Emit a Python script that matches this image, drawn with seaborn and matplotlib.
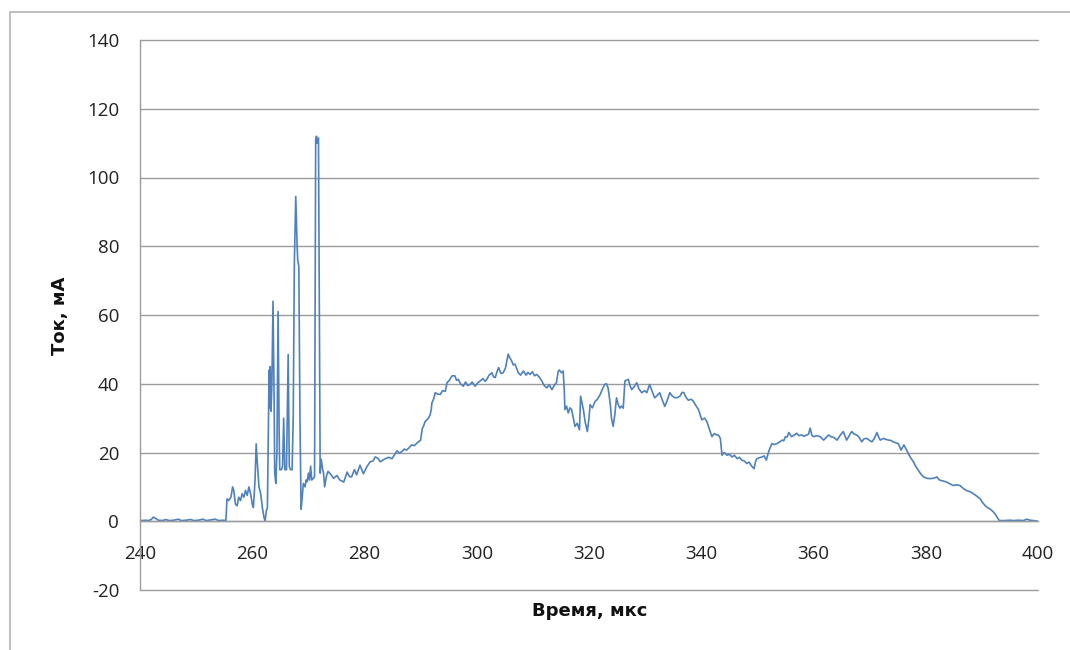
import matplotlib
matplotlib.use("Agg")
import matplotlib.pyplot as plt
from matplotlib.patches import Rectangle
import seaborn as sns
import pandas as pd

# Discharge current trace: time (µs) and current (mA)
time_us = [
    240.0, 240.5, 241.0, 241.5, 242.0, 242.4, 242.8, 243.3, 244.0, 244.6,
    245.2, 246.0, 246.8, 247.4, 248.2, 249.0, 249.6, 250.4, 251.2, 251.8,
    252.6, 253.4, 254.0, 254.8, 255.3,
    255.5, 255.8, 256.2, 256.5, 256.7, 257.0, 257.3, 257.6, 257.9, 258.2,
    258.5, 258.8, 259.1, 259.4, 259.7, 260.0, 260.2, 260.5, 260.7, 260.9,
    261.2, 261.5, 261.8, 262.1, 262.3, 262.5, 262.7,
    262.9, 263.0, 263.1, 263.2, 263.35, 263.5, 263.7, 263.9, 264.0, 264.2,
    264.4, 264.6, 264.8, 264.9, 265.2, 265.4, 265.6, 265.8, 266.1, 266.4,
    266.6, 266.8, 267.1, 267.3, 267.5, 267.75, 268.0, 268.1, 268.3, 268.5,
    268.7, 268.9, 269.1, 269.4, 269.6, 269.8, 270.0, 270.2, 270.4, 270.6,
    270.9, 271.1, 271.2, 271.3, 271.45, 271.55, 271.65, 271.8, 271.95, 272.1,
    272.3, 272.5, 272.7, 272.9, 273.2, 273.5, 273.9,
    274.5, 275.1, 275.6, 276.3, 276.9, 277.3, 277.7, 278.2, 278.6, 279.2,
    279.8, 280.4, 281.0, 281.5, 281.9, 282.4, 282.8, 283.3, 283.7, 284.3,
    284.9, 285.4, 285.8, 286.2, 286.6, 287.1, 287.5, 288.0, 288.4, 288.9,
    289.3, 289.7, 290.0, 290.3, 290.5, 290.8, 291.1, 291.4, 291.7, 291.9,
    292.0, 292.3, 292.6, 293.0, 293.5, 293.9, 294.4, 294.7, 295.1, 295.6,
    296.1, 296.4, 296.7, 297.1, 297.6, 298.0, 298.4, 298.8, 299.2, 299.7,
    300.2, 300.6, 301.1, 301.5, 301.8, 302.2, 302.7, 303.0, 303.3, 303.6,
    303.9, 304.3, 304.7, 305.1, 305.6, 305.9, 306.2, 306.5, 306.8, 307.1,
    307.4, 307.8, 308.3, 308.8, 309.1, 309.5, 309.9, 310.3, 310.7, 311.1,
    311.6, 312.0, 312.5, 312.9, 313.4, 313.8, 314.2, 314.5, 314.7, 315.1,
    315.4, 315.6, 315.7, 316.0, 316.3, 316.6, 316.9, 317.2, 317.5, 317.9,
    318.3, 318.5, 318.8, 319.0, 319.3, 319.7, 320.0, 320.2, 320.6, 321.1,
    321.5, 322.0, 322.4, 322.8, 323.1, 323.4, 323.8, 324.0, 324.3, 324.6,
    324.9, 325.2, 325.5, 325.8, 326.1, 326.4, 327.0, 327.3, 327.6, 328.0,
    328.5, 328.9, 329.4, 329.9, 330.3, 330.8, 331.2, 331.7, 332.1, 332.6,
    333.0, 333.5, 333.9, 334.4, 334.8, 335.3, 335.8, 336.2, 336.6, 336.9,
    337.3, 337.7, 338.2, 338.6, 339.1, 339.5, 339.8, 340.1, 340.6, 341.0,
    341.4, 341.9, 342.3, 342.8, 343.1, 343.4, 343.7, 344.1, 344.6, 345.0,
    345.5, 345.9, 346.4, 346.8, 347.2, 347.7, 348.1, 348.5, 349.0, 349.4,
    349.7, 349.9, 350.4, 350.8, 351.2, 351.6, 352.0, 352.3, 352.6, 353.0,
    353.5, 353.9, 354.4, 354.7, 355.0, 355.3, 355.6, 356.1, 356.5, 357.0,
    357.4, 357.9, 358.3, 358.8, 359.1, 359.4, 359.7, 360.0, 360.6, 361.2,
    361.8, 362.2, 362.7, 363.1, 363.6, 364.2, 364.8, 365.3, 365.9, 366.3,
    366.8, 367.2, 367.7, 368.1, 368.6, 369.0, 369.5, 370.0, 370.4, 370.8,
    371.3, 371.6, 371.9, 372.5, 372.9, 373.4, 373.8, 374.2, 374.7, 375.1,
    375.6, 376.1, 376.5, 376.9, 377.3, 377.8, 378.2, 378.7, 379.1, 379.6,
    380.2, 380.8, 381.4, 382.0, 382.3, 382.6, 383.1, 383.7, 384.3, 384.9,
    385.5, 386.1, 386.7, 387.3, 387.9, 388.5, 389.1, 389.7, 390.1, 390.6,
    391.0, 391.5, 392.0, 392.4, 392.8, 393.1, 394.0, 395.0, 395.6, 396.5,
    397.4, 398.0, 398.6, 399.2, 400.0,
]
current_ma = [
    0.3, 0.2, 0.3, 0.2, 0.5, 1.2, 0.8, 0.3, 0.2, 0.5,
    0.2, 0.3, 0.6, 0.2, 0.3, 0.5, 0.2, 0.3, 0.6, 0.2,
    0.4, 0.6, 0.2, 0.3, 0.2,
    6.5, 6.0, 7.0, 10.0, 9.0, 5.0, 4.5, 7.0, 6.0, 8.0,
    7.0, 9.0, 7.5, 10.0, 8.0, 5.0, 4.0, 12.0, 22.5, 17.0,
    10.0, 8.0, 4.0, 1.0, 0.2, 3.0, 4.0,
    30.0, 44.0, 33.0, 45.0, 32.0, 40.0, 64.0, 35.0, 14.0, 11.0,
    20.0, 61.0, 25.0, 15.0, 15.0, 16.0, 30.0, 15.0, 15.0, 48.5,
    16.0, 15.0, 15.0, 30.0, 75.0, 94.5, 80.0, 76.0, 74.0, 30.0,
    3.5, 7.0, 11.0, 10.0, 12.0, 11.5, 14.0, 12.0, 16.0, 12.0,
    12.5, 13.0, 60.0, 111.0, 112.0, 110.0, 111.0, 111.5, 60.0, 14.0,
    18.0, 15.5, 14.0, 10.0, 13.0, 14.5, 13.8,
    12.5, 13.3, 12.0, 11.4, 14.3, 13.0, 12.9, 15.0, 13.5, 16.3,
    13.8, 15.8, 17.3, 17.5, 18.7, 18.3, 17.3, 17.8, 18.2, 18.6,
    18.2, 19.5, 20.5, 19.8, 20.2, 21.0, 20.7, 21.5, 22.2, 22.0,
    22.7, 23.2, 23.6, 27.0, 27.6, 29.0, 29.5, 30.0, 31.0, 32.5,
    34.4, 35.5, 37.4, 37.0, 36.9, 38.0, 37.8, 40.3, 41.0, 42.3,
    42.3, 41.0, 41.3, 40.0, 39.3, 40.5, 39.5, 39.8, 40.5, 39.3,
    40.3, 40.8, 41.5, 40.7, 41.3, 42.5, 43.2, 42.0, 41.8, 43.5,
    44.7, 43.0, 43.2, 44.5, 48.6, 47.5, 46.7, 45.5, 45.7, 44.5,
    43.2, 42.5, 43.7, 42.5, 43.3, 42.7, 43.5, 42.3, 42.7, 42.0,
    40.8, 39.5, 38.8, 39.7, 38.3, 39.5, 40.3, 43.5, 44.0, 43.2,
    43.7, 38.0, 32.5, 33.5, 31.5, 33.0, 32.5, 30.0, 27.6, 28.5,
    26.6, 36.4, 34.0, 32.5, 29.0, 26.1, 30.0, 33.9, 33.0, 34.9,
    35.5, 36.9, 38.5, 39.8, 40.0, 38.8, 34.0, 30.0, 27.6, 31.0,
    35.9, 34.0, 32.9, 33.5, 32.9, 40.8, 41.3, 39.5, 38.3, 39.0,
    40.3, 38.5, 37.4, 38.0, 37.4, 39.8, 38.0, 35.9, 36.5, 37.4,
    35.5, 33.4, 35.0, 37.4, 36.5, 35.9, 36.0, 36.4, 37.5, 37.4,
    36.0, 35.2, 35.5, 34.9, 33.5, 32.5, 31.0, 29.5, 30.0, 29.0,
    27.0, 24.6, 25.5, 25.1, 25.0, 24.1, 19.2, 20.0, 19.2, 19.5,
    18.7, 19.2, 18.2, 18.6, 17.8, 17.5, 16.8, 17.2, 16.0, 15.3,
    17.5, 18.2, 18.5, 18.7, 19.0, 17.8, 20.2, 21.5, 22.6, 22.3,
    22.6, 23.0, 23.6, 23.4, 24.6, 24.5, 25.8, 24.6, 25.0, 25.6,
    24.9, 25.1, 24.7, 25.1, 25.3, 27.1, 25.0, 24.6, 24.9, 24.6,
    23.6, 24.3, 25.1, 24.6, 24.4, 23.6, 25.1, 26.1, 23.6, 24.7,
    26.1, 25.4, 25.1, 24.5, 23.1, 24.0, 24.1, 23.5, 23.1, 24.0,
    25.8, 24.5, 23.6, 24.1, 23.8, 23.6, 23.5, 23.1, 22.8, 22.6,
    20.7, 22.2, 21.0, 19.7, 18.5, 17.3, 16.0, 14.8, 13.8, 12.9,
    12.5, 12.4, 12.5, 12.9, 12.2, 11.9, 11.7, 11.4, 10.9, 10.4,
    10.6, 10.4, 9.5, 8.9, 8.6, 8.0, 7.3, 6.5, 5.5, 4.5,
    4.0, 3.5, 2.8, 2.0, 1.0, 0.2, 0.2, 0.3, 0.2, 0.3,
    0.2, 0.6, 0.3, 0.2, 0.0,
]

x_ticks = [240, 260, 280, 300, 320, 340, 360, 380, 400]
y_ticks = [-20, 0, 20, 40, 60, 80, 100, 120, 140]
x_label = "Время, мкс"
y_label = "Ток, мА"

df = pd.DataFrame({"t": time_us, "i": current_ma})

sns.set_style("white")
plt.rcParams["font.family"] = ["Open Sans", "DejaVu Sans"]
plt.rcParams["axes.unicode_minus"] = False

W, H = 1070, 650
fig = plt.figure(figsize=(W / 100, H / 100), dpi=100)
fig.patch.set_facecolor("white")

# outer chart frame
fig.patches.append(Rectangle((10 / W, -0.05), 1.2, (H - 12) / H + 0.05,
                             transform=fig.transFigure, fill=False,
                             edgecolor="#b4b4b4", linewidth=1.2))

ax = fig.add_axes([140 / W, 1 - 590 / H, (1038 - 140) / W, 550 / H])
ax.set_facecolor("white")

grid_col = "#9c9c9c"
ax.set_axisbelow(True)

sns.lineplot(data=df, x="t", y="i", ax=ax, estimator=None, sort=False,
             color="#4f81bd", linewidth=1.2)

ax.set_xlim(240, 400)
ax.set_ylim(-20, 140)
ax.set_xticks(x_ticks)
ax.set_yticks(y_ticks)
ax.set_xlabel("")
ax.set_ylabel("")
ax.yaxis.grid(True, color=grid_col, linewidth=1.0)
ax.xaxis.grid(False)
for gl in ax.get_ygridlines():
    gl.set_clip_on(False)

for s in ("top", "right"):
    ax.spines[s].set_visible(False)
ax.spines["left"].set_color(grid_col)
ax.spines["bottom"].set_color(grid_col)
ax.spines["bottom"].set_position(("data", 0))
ax.spines["left"].set_linewidth(1.0)
ax.spines["bottom"].set_linewidth(1.0)

ax.tick_params(axis="both", direction="out", length=6, width=1.0,
               color=grid_col, labelsize=13.5, labelcolor="#222222", pad=9)
ax.tick_params(axis="x", pad=11)

fig.text(590 / W, 1 - 611 / H, x_label, ha="center", va="center",
         fontsize=13, fontweight="bold", color="#111111",
         family="DejaVu Sans")
fig.text(60 / W, 1 - 316 / H, y_label, ha="center", va="center",
         rotation=90, fontsize=13, fontweight="bold", color="#111111",
         family="DejaVu Sans")

fig.savefig("out.png", dpi=100, facecolor="white")
